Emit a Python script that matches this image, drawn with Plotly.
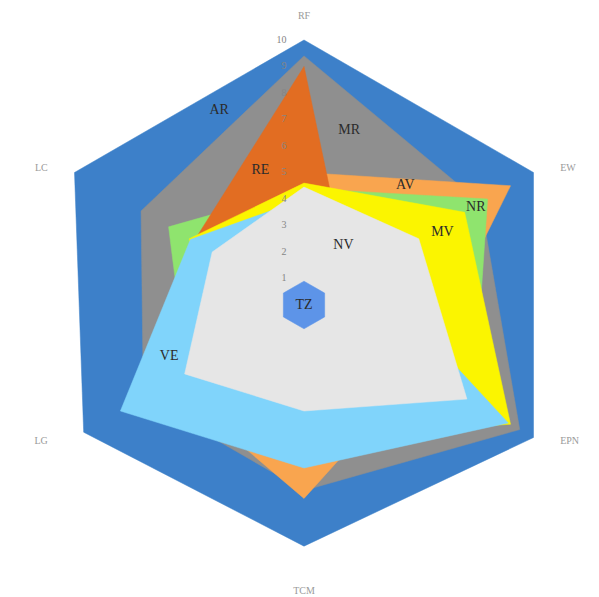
import plotly.graph_objects as go

# Radar axes, clockwise from the top
categories = ["RF", "EW", "EPN", "TCM", "LG", "LC"]
angles = [0, 60, 120, 180, 240, 300]

# Series scores (0-10) on each axis, drawn back to front
AR = [10.0, 10.0, 10.0, 9.1, 9.6, 10.0]
MR = [9.4, 7.7, 9.4, 7.0, 7.0, 7.1]
AV = [5.0, 9.0, 5.0, 7.3, 5.9, 5.0]
NR = [4.4, 8.0, 7.4, 5.5, 5.1, 5.9]
RE = [9.0, 1.95, 2.0, 2.0, 2.0, 4.8]
MV = [4.6, 7.0, 9.0, 5.0, 4.0, 5.0]
VE = [4.0, 2.7, 8.9, 6.15, 8.0, 4.95]
NV = [4.45, 5.0, 7.1, 4.0, 5.2, 4.0]
TZ = [0.9, 0.9, 0.9, 0.9, 0.9, 0.9]

series_names = ["AR", "MR", "AV", "NR", "RE", "MV", "VE", "NV", "TZ"]
series_values = [AR, MR, AV, NR, RE, MV, VE, NV, TZ]
series_colors = ["#3d80c9", "#8f8f8f", "#f9a54f", "#8fe46e", "#e26d22",
                 "#fbf500", "#80d4fb", "#e6e6e6", "#5d94e8"]

radial_ticks = [1, 2, 3, 4, 5, 6, 7, 8, 9, 10]

# Where each series name is written inside the chart (r, angle)
label_r = [8.0, 6.8, 5.9, 7.45, 5.35, 5.9, 5.45, 2.7, 0.0]
label_theta = [336.4, 14.5, 40.4, 60.5, 342.1, 62.3, 249.0, 33.5, 0.0]

# Axis names placed outside the outer ring (r, angle, anchor)
axis_label_r = [10.9, 10.95, 10.95, 10.8, 10.95, 10.95]
axis_label_theta = [0, 62, 118, 180, 242, 298]
axis_label_pos = ["middle center", "middle right", "middle right",
                  "middle center", "middle left", "middle left"]
view_max = 11

fig = go.Figure()

for name, vals, col in zip(series_names, series_values, series_colors):
    fig.add_trace(go.Scatterpolar(
        r=vals + vals[:1],
        theta=angles + angles[:1],
        mode="lines",
        fill="toself",
        fillcolor=col,
        line=dict(color=col, width=0.5),
        name=name,
        hoverinfo="name+r",
    ))

# Series names
fig.add_trace(go.Scatterpolar(
    r=label_r,
    theta=label_theta,
    mode="text",
    text=series_names,
    textfont=dict(family="Liberation Serif", size=14, color="#2b2b2b"),
    textposition="middle center",
    hoverinfo="skip",
))

# Scale values along the RF spoke, written to its left
fig.add_trace(go.Scatterpolar(
    r=radial_ticks,
    theta=[angles[0]] * len(radial_ticks),
    mode="text",
    text=[str(t) + "\u00a0" * 7 for t in radial_ticks],
    textfont=dict(family="Liberation Serif", size=10, color="#858585"),
    textposition="middle left",
    hoverinfo="skip",
))

# Axis names
fig.add_trace(go.Scatterpolar(
    r=axis_label_r,
    theta=axis_label_theta,
    mode="text",
    text=categories,
    textfont=dict(family="Liberation Serif", size=10, color="#9a9a9a"),
    textposition=axis_label_pos,
    cliponaxis=False,
    hoverinfo="skip",
))

# Polar area sized so that the 10 ring spans 265 px around (304, 305)
ring_px = 265.0
area_px = ring_px * view_max / 10
cx, cy = 304.0, 305.0
W, H = 599, 597
fig.update_layout(
    width=W,
    height=H,
    margin=dict(l=0, r=0, t=0, b=0),
    paper_bgcolor="white",
    plot_bgcolor="white",
    showlegend=False,
    polar=dict(
        bgcolor="rgba(0,0,0,0)",
        gridshape="linear",
        domain=dict(
            x=[max(0.0, (cx - area_px) / W), min(1.0, (cx + area_px) / W)],
            y=[max(0.0, (H - cy - area_px) / H), min(1.0, (H - cy + area_px) / H)],
        ),
        radialaxis=dict(
            range=[0, view_max],
            angle=90,
            tickvals=radial_ticks,
            showticklabels=False,
            showline=False,
            showgrid=False,
            ticks="",
        ),
        angularaxis=dict(
            rotation=90,
            direction="clockwise",
            thetaunit="degrees",
            tickmode="array",
            tickvals=angles,
            ticktext=categories,
            showticklabels=False,
            showline=False,
            showgrid=False,
            ticks="",
        ),
    ),
)

fig.write_html("out.html")
